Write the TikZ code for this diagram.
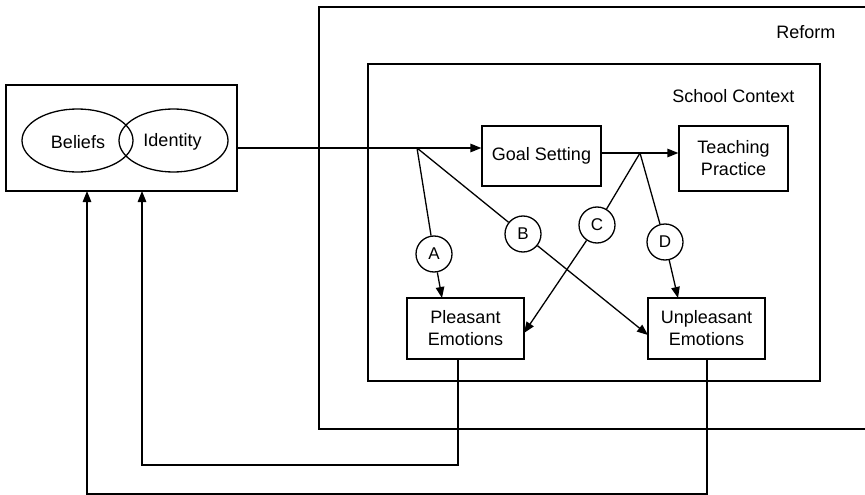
\documentclass[tikz,border=0pt]{standalone}
\usepackage{fontspec}
\setmainfont{Liberation Sans}
\usetikzlibrary{arrows.meta,shapes.geometric}
\begin{document}
\begin{tikzpicture}[x=1pt,y=-1pt,
  line width=1.3pt,
  every node/.style={font=\fontsize{18}{22}\selectfont, inner sep=0pt},
  box/.style={draw, rectangle, align=center},
  oval/.style={draw, ellipse},
  tag/.style={draw, circle, minimum size=36pt, font=\fontsize{17}{18}\selectfont},
  arr/.style={-{Triangle[length=11pt,width=8.5pt]}}]
\useasboundingbox (0,0) rectangle (865,495);

% outer frames
\draw (865,7) -- (319,7) -- (319,429) -- (865,429);
\node[anchor=east] (reform) at (836,32) {Reform};
\node[box, minimum width=452pt, minimum height=317pt] (school) at (594,222.5) {};
\node[anchor=east] (schooltxt) at (795,96) {School Context};

% beliefs and identity
\node[box, minimum width=231pt, minimum height=106pt] (lbox) at (121.5,138) {};
\node[oval, minimum width=111pt, minimum height=63pt] (bel) at (77.5,140.5) {};
\node[oval, minimum width=109pt, minimum height=63pt] (idn) at (173.5,140.5) {};
\node (beltxt) at (78,142) {Beliefs};
\node (idntxt) at (172.5,142) {Identity};

% process boxes
\node[box, minimum width=119pt, minimum height=60pt] (goal) at (541.5,156) {Goal Setting};
\node[box, minimum width=109pt, minimum height=65pt] (teach) at (733.5,158.5) {Teaching\\Practice};
\node[box, minimum width=117pt, minimum height=61pt] (pleas) at (465.5,328.5) {Pleasant\\Emotions};
\node[box, minimum width=117pt, minimum height=61pt] (unpl) at (706.5,328.5) {Unpleasant\\Emotions};

% path labels
\node[tag] (A) at (434,254) {A};
\node[tag] (B) at (523,234) {B};
\node[tag] (C) at (597,225) {C};
\node[tag] (D) at (665,242) {D};

% junctions and arrow targets
\coordinate (j1) at (417,148);
\coordinate (j2) at (640,153);
\coordinate (tA) at (442,298);
\coordinate (tB) at (648,335);
\coordinate (tC) at (524,333);
\coordinate (tD) at (678,298);
\coordinate (f1) at (458,465);
\coordinate (f2) at (707,494);
\coordinate (in1) at (142,191);
\coordinate (in2) at (87,191);

% main flow
\draw[arr] (lbox.east |- j1) -- (j1) -- (goal.west |- j1);
\draw[arr] (goal.east |- j2) -- (j2) -- (teach.west |- j2);

% emotional paths
\draw (j1) -- (A);
\draw[arr] (A) -- (tA);
\draw (j1) -- (B);
\draw[arr] (B) -- (tB);
\draw (j2) -- (C);
\draw[arr] (C) -- (tC);
\draw (j2) -- (D);
\draw[arr] (D) -- (tD);

% feedback loops
\draw[arr] (pleas.south -| f1) -- (f1) -| (in1);
\draw[arr] (unpl.south -| f2) -- (f2) -| (in2);
\end{tikzpicture}
\end{document}
